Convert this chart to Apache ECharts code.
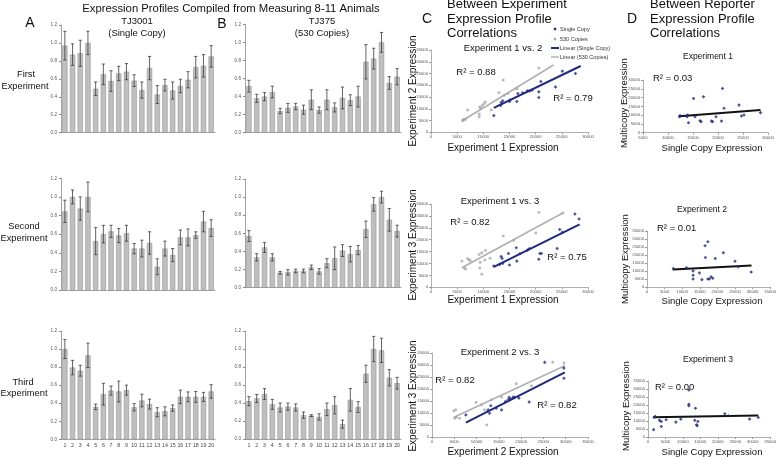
<!DOCTYPE html>
<html>
<head>
<meta charset="utf-8">
<style>
  html, body { margin: 0; padding: 0; background: #fff; }
  #fig { width: 779px; height: 457px; }
</style>
<script src="https://cdn.jsdelivr.net/npm/echarts@6/dist/echarts.min.js"></script>
</head>
<body>
<div id="fig"></div>
<script>
// ---- bar panels (A = TJ3001 single copy, B = TJ375 530 copies) ----
var genes = ['1','2','3','4','5','6','7','8','9','10','11','12','13','14','15','16','17','18','19','20'];

var a1Mean = [0.97,0.87,0.885,1.0,0.49,0.65,0.575,0.66,0.68,0.58,0.475,0.72,0.425,0.53,0.47,0.52,0.59,0.73,0.745,0.85];
var a1Err  = [0.16,0.12,0.145,0.13,0.075,0.115,0.115,0.08,0.09,0.065,0.09,0.13,0.1,0.065,0.095,0.075,0.09,0.12,0.125,0.12];
var b1Mean = [0.515,0.38,0.40,0.45,0.24,0.275,0.29,0.255,0.365,0.25,0.365,0.28,0.385,0.36,0.40,0.785,0.82,1.0,0.55,0.62];
var b1Err  = [0.065,0.045,0.045,0.065,0.03,0.05,0.035,0.05,0.11,0.035,0.11,0.05,0.12,0.06,0.115,0.19,0.115,0.11,0.07,0.09];
var a2Mean = [0.845,1.0,0.875,1.0,0.525,0.6,0.63,0.585,0.61,0.445,0.445,0.505,0.25,0.445,0.375,0.565,0.565,0.59,0.735,0.665];
var a2Err  = [0.12,0.075,0.125,0.16,0.145,0.095,0.065,0.075,0.085,0.055,0.09,0.12,0.085,0.08,0.07,0.08,0.09,0.035,0.11,0.09];
var b2Mean = [0.57,0.335,0.445,0.335,0.165,0.17,0.185,0.185,0.225,0.18,0.27,0.325,0.41,0.37,0.415,0.645,0.92,1.0,0.75,0.625];
var b2Err  = [0.06,0.04,0.055,0.04,0.015,0.03,0.02,0.02,0.025,0.03,0.05,0.125,0.065,0.085,0.05,0.09,0.075,0.065,0.125,0.065];
var a3Mean = [1.0,0.795,0.76,0.93,0.36,0.5,0.54,0.53,0.545,0.355,0.43,0.39,0.3,0.31,0.345,0.47,0.47,0.47,0.47,0.53];
var a3Err  = [0.105,0.08,0.06,0.135,0.03,0.12,0.05,0.115,0.055,0.04,0.07,0.055,0.05,0.05,0.035,0.075,0.055,0.06,0.05,0.075];
var b3Mean = [0.42,0.45,0.5,0.385,0.35,0.36,0.35,0.265,0.26,0.245,0.33,0.375,0.165,0.435,0.355,0.725,1.0,0.985,0.68,0.62];
var b3Err  = [0.05,0.045,0.06,0.055,0.05,0.04,0.04,0.035,0.01,0.035,0.07,0.095,0.045,0.125,0.06,0.095,0.14,0.135,0.09,0.065];

// ---- C: between experiment correlations [x, y] ----
var c1Single = [[12000,7100],[13300,11400],[13400,12700],[13700,13400],[15000,13100],[15100,13700],[16400,13100],[16600,16500],[17500,16800],[18400,17600],[18800,17600],[19300,17900],[20600,17200],[20600,14800],[21000,21600],[23800,19300],[25100,26000],[27600,25000]];
var c1Multi  = [[6000,5000],[6300,5300],[6600,5600],[6200,5500],[7000,9500],[9200,6600],[9200,7800],[9300,10800],[9500,10200],[9800,11400],[10100,12200],[10400,12900],[11500,9500],[13000,16900],[13800,22200],[14000,15800],[14700,16500],[16400,18500],[20600,27300]];
var c1SingleFit = [[12000,10400],[28600,28200]];
var c1MultiFit  = [[5900,4800],[23400,28600]];

var c2Single = [[12000,8900],[13100,9600],[13400,12900],[13600,12100],[13700,10000],[14800,14200],[15000,9400],[16300,16600],[16400,11000],[17000,14100],[18400,15600],[18800,16300],[20600,11800],[20800,14200],[21100,14200],[24100,16300],[24600,24300],[25100,23100],[27500,30800],[28300,28700]];
var c2Multi  = [[5900,11000],[6400,8000],[6600,7700],[7000,12000],[7300,11600],[7500,11200],[9200,13800],[9400,10500],[9300,8100],[9700,14500],[9700,5500],[10400,15500],[10300,11500],[11300,12200],[13800,21500],[15800,19700],[20000,22800],[20600,31500],[25200,31200]];
var c2SingleFit = [[12000,8600],[28400,26400]];
var c2MultiFit  = [[5900,8200],[25100,31100]];

var c3Single = [[7600,9200],[12600,11300],[12900,9900],[13200,13000],[14400,12000],[15600,11300],[16500,14800],[17100,15500],[17300,16500],[17600,15900],[18200,16600],[18500,16500],[19500,16200],[21800,14600],[25300,31100],[29600,28700],[29600,24500]];
var c3Multi  = [[4900,10900],[5300,11300],[5100,7800],[5500,8200],[6200,7800],[9900,14400],[11100,13400],[11800,11300],[12300,5000],[13300,15500],[15600,16600],[18900,22200],[22300,21300],[27100,31200],[29600,30800]];
var c3SingleFit = [[7600,6000],[29800,26900]];
var c3MultiFit  = [[4900,8200],[29800,29700]];

// ---- D: single copy vs multicopy ----
var d1Pts = [[12300,9100],[12400,9700],[13800,9100],[13900,10100],[14100,5700],[15100,19500],[15400,9100],[16400,6800],[16600,6300],[17100,20500],[18700,6600],[18900,6300],[19600,9100],[20700,6600],[20900,25200],[21200,13900],[24200,15700],[24700,9500],[25200,10100],[28500,11400]];
var d1Fit = [[12300,9300],[28500,12900]];
var d2Pts = [[7500,11500],[11200,12000],[13100,10100],[13100,7300],[13100,5000],[14900,8800],[15600,4600],[16500,25800],[16600,18400],[17300,28300],[17300,5000],[17700,5000],[18200,6300],[18700,5500],[19400,17800],[21700,21400],[25000,16100],[25900,12600],[29600,9400]];
var d2Fit = [[7300,10900],[29700,13400]];
var d3Pts = [[1600,4600],[1900,12400],[2100,12800],[3300,10400],[3800,9700],[3800,6600],[5200,10800],[8000,9300],[9400,11200],[11700,29400],[11700,20500],[11700,19500],[13400,10400],[13600,18000],[13900,7700],[14100,7000],[14300,9700],[22000,14500],[23000,13300],[29100,11200],[31600,12200]];
var d3Fit = [[1400,12400],[31600,13500]];

var FONT = 'Liberation Sans, Arial, sans-serif';
var NAVY = '#1f2a7c';
var GREY = '#a8a8a8';

var grids = [], xAxes = [], yAxes = [], series = [];

function errBars(params, api) {
    var i = api.value(0), m = api.value(1), e = api.value(2);
    var hi = api.coord([i, m + e]);
    var lo = api.coord([i, m - e]);
    var w = 1.6;
    var st = { stroke: '#3a3a3a', lineWidth: 0.8 };
    return { type: 'group', children: [
        { type: 'line', shape: { x1: hi[0], y1: hi[1], x2: lo[0], y2: lo[1] }, style: st },
        { type: 'line', shape: { x1: hi[0] - w, y1: hi[1], x2: hi[0] + w, y2: hi[1] }, style: st },
        { type: 'line', shape: { x1: lo[0] - w, y1: lo[1], x2: lo[0] + w, y2: lo[1] }, style: st }
    ]};
}

function addBars(box, means, errs, showX) {
    var k = grids.length;
    grids.push({ left: box[0], top: box[1], width: box[2], height: box[3], containLabel: false });
    xAxes.push({
        type: 'category', gridIndex: k, data: genes,
        axisLine: { lineStyle: { color: '#8a8a8a', width: 0.8 } },
        axisTick: { alignWithLabel: true, length: 2, lineStyle: { color: '#8a8a8a' } },
        axisLabel: { show: showX, fontSize: 5.3, color: '#444', margin: 4, interval: 0, fontFamily: FONT }
    });
    yAxes.push({
        type: 'value', gridIndex: k, min: 0, max: 1.2, interval: 0.2,
        axisLine: { show: true, lineStyle: { color: '#8a8a8a', width: 0.8 } },
        axisTick: { show: true, length: 2, lineStyle: { color: '#8a8a8a' } },
        splitLine: { show: false },
        axisLabel: { fontSize: 4.6, color: '#555', margin: 4, fontFamily: FONT,
            formatter: function (v) { return v.toFixed(1); } }
    });
    series.push({
        type: 'bar', xAxisIndex: k, yAxisIndex: k, data: means, barWidth: '68%',
        itemStyle: { color: '#bfbfbf', borderColor: '#8a8a8a', borderWidth: 0.5 }, silent: true
    });
    series.push({
        type: 'custom', xAxisIndex: k, yAxisIndex: k, renderItem: errBars,
        data: means.map(function (m, i) { return [i, m, errs[i]]; }), z: 5, silent: true
    });
}

function plain(v) { return String(v); }

function addScatter(box, xr, yr, sets) {
    var k = grids.length;
    grids.push({ left: box[0], top: box[1], width: box[2], height: box[3], containLabel: false });
    xAxes.push({
        type: 'value', gridIndex: k, min: xr[0], max: xr[1], interval: 5000,
        axisLine: { lineStyle: { color: '#9a9a9a', width: 0.8 } },
        axisTick: { show: true, length: 2, lineStyle: { color: '#9a9a9a' } },
        splitLine: { show: false },
        axisLabel: { fontSize: 4.2, color: '#555', margin: 3, fontFamily: FONT, formatter: plain }
    });
    yAxes.push({
        type: 'value', gridIndex: k, min: yr[0], max: yr[1], interval: 5000,
        axisLine: { show: true, lineStyle: { color: '#9a9a9a', width: 0.8 } },
        axisTick: { show: true, length: 2, lineStyle: { color: '#9a9a9a' } },
        splitLine: { show: false },
        axisLabel: { fontSize: 4.2, color: '#555', margin: 3, fontFamily: FONT, formatter: plain }
    });
    sets.forEach(function (s) {
        if (s.fit) {
            series.push({ type: 'line', xAxisIndex: k, yAxisIndex: k, data: s.data, showSymbol: false,
                lineStyle: { color: s.color, width: s.width }, z: 3, silent: true });
        } else {
            series.push({ type: 'scatter', xAxisIndex: k, yAxisIndex: k, data: s.data,
                symbol: s.symbol, symbolSize: s.size, itemStyle: { color: s.color }, z: 4, silent: true });
        }
    });
}

// bar grids
addBars([61, 25, 154, 107.7], a1Mean, a1Err, false);
addBars([245, 24.3, 156, 108.4], b1Mean, b1Err, false);
addBars([61, 178.3, 154, 111.7], a2Mean, a2Err, false);
addBars([245, 179, 156, 108.7], b2Mean, b2Err, false);
addBars([61, 331, 154, 108.3], a3Mean, a3Err, true);
addBars([245, 331, 156, 108], b3Mean, b3Err, true);

function cSets(single, multi, sFit, mFit) {
    return [
        { data: mFit, fit: true, color: '#b0b0b0', width: 1.6 },
        { data: sFit, fit: true, color: NAVY, width: 2 },
        { data: multi, symbol: 'rect', size: 2.6, color: GREY },
        { data: single, symbol: 'diamond', size: 3.6, color: NAVY }
    ];
}
function dSets(pts, fit) {
    return [
        { data: fit, fit: true, color: '#111', width: 2 },
        { data: pts, symbol: 'diamond', size: 3.6, color: NAVY }
    ];
}

addScatter([431, 50, 157, 82.3], [0, 30000], [0, 35000], cSets(c1Single, c1Multi, c1SingleFit, c1MultiFit));
addScatter([431, 204, 157, 83.3], [0, 30000], [0, 35000], cSets(c2Single, c2Multi, c2SingleFit, c2MultiFit));
addScatter([432, 353, 156, 84], [0, 35000], [0, 35000], cSets(c3Single, c3Multi, c3SingleFit, c3MultiFit));
addScatter([643, 80, 125, 52.7], [5000, 30000], [0, 30000], dSets(d1Pts, d1Fit));
addScatter([647, 231, 125, 56], [0, 35000], [0, 35000], dSets(d2Pts, d2Fit));
addScatter([648, 381, 125, 56], [0, 35000], [0, 35000], dSets(d3Pts, d3Fit));

// text labels
function txt(s, x, y, size, opts) {
    opts = opts || {};
    return {
        type: 'text', x: x, y: y, rotation: opts.rot || 0, silent: true,
        style: { text: s, fontSize: size, fontFamily: FONT, fill: opts.color || '#111',
            align: opts.align || 'center', verticalAlign: 'middle' }
    };
}
var V = { rot: Math.PI / 2 };
var texts = [
    txt('Expression Profiles Compiled from Measuring 8-11 Animals', 231, 9, 11.3),
    txt('A', 30, 23, 14), txt('B', 222, 24, 14),
    txt('TJ3001', 137, 21, 9.5), txt('(Single Copy)', 137, 33, 9.5),
    txt('TJ375', 322, 21, 9.5), txt('(530 Copies)', 322, 33, 9.5),
    txt('First', 26, 74, 9.3), txt('Experiment', 25, 86, 9.3),
    txt('Second', 24, 226, 9.3), txt('Experiment', 24, 238, 9.3),
    txt('Third', 23, 382, 9.3), txt('Experiment', 24, 393, 9.3),

    txt('C', 427, 19, 14),
    txt('Between Experiment', 447, 4, 13, { align: 'left' }),
    txt('Expression Profile', 447, 19, 13, { align: 'left' }),
    txt('Correlations', 447, 33, 13, { align: 'left' }),
    txt('Experiment 1 vs. 2', 503, 48, 9.5),
    txt('R² = 0.88', 476, 72, 9.5), txt('R² = 0.79', 573, 98, 9.5),
    txt('Experiment 2 Expression', 413, 91, 10, V),
    txt('Experiment 1 Expression', 503, 148, 10),
    txt('Experiment 1 vs. 3', 500, 201, 9.5),
    txt('R² = 0.82', 470, 222, 9.5), txt('R² = 0.75', 567, 257, 9.5),
    txt('Experiment 3 Expression', 413, 245, 10, V),
    txt('Experiment 1 Expression', 503, 300, 10),
    txt('Experiment 2 vs. 3', 500, 352, 9.5),
    txt('R² = 0.82', 455, 380, 9.5), txt('R² = 0.82', 557, 405, 9.5),
    txt('Experiment 3 Expression', 413, 396, 10, V),
    txt('Experiment 2 Expression', 503, 452, 10),

    txt('D', 632, 19, 14),
    txt('Between Reporter', 650, 4, 13, { align: 'left' }),
    txt('Expression Profile', 650, 19, 13, { align: 'left' }),
    txt('Correlations', 650, 33, 13, { align: 'left' }),
    txt('Experiment 1', 708, 57, 8.5),
    txt('R² = 0.03', 653, 78, 9.5, { align: 'left' }),
    txt('Multicopy Expression', 624, 103, 9.5, V),
    txt('Single Copy Expression', 712, 148, 9.5),
    txt('Experiment 2', 702, 210, 8.5),
    txt('R² = 0.01', 657, 228, 9.5, { align: 'left' }),
    txt('Multicopy Expression', 625, 259, 9.5, V),
    txt('Single Copy Expression', 712, 301, 9.5),
    txt('Experiment 3', 708, 360, 8.5),
    txt('R² = 0.00', 655, 387, 9.5, { align: 'left' }),
    txt('Multicopy Expression', 626, 406, 9.5, V),
    txt('Single Copy Expression', 712, 452, 9.5),

    // legend of panel C
    { type: 'polygon', silent: true, shape: { points: [[555, 27.3], [556.7, 29], [555, 30.7], [553.3, 29]] }, style: { fill: NAVY } },
    { type: 'rect', silent: true, shape: { x: 553.8, y: 37.8, width: 2.4, height: 2.4 }, style: { fill: GREY } },
    { type: 'line', silent: true, shape: { x1: 551, y1: 48, x2: 559, y2: 48 }, style: { stroke: NAVY, lineWidth: 2 } },
    { type: 'line', silent: true, shape: { x1: 551, y1: 57, x2: 559, y2: 57 }, style: { stroke: '#b0b0b0', lineWidth: 1.4 } },
    txt('Single Copy', 560, 29, 5.5, { align: 'left', color: '#333' }),
    txt('530 Copies', 560, 39, 5.5, { align: 'left', color: '#333' }),
    txt('Linear (Single Copy)', 560, 48, 5.5, { align: 'left', color: '#333' }),
    txt('Linear (530 Copies)', 560, 57, 5.5, { align: 'left', color: '#333' })
];

var chart = echarts.init(document.getElementById('fig'), null, { renderer: 'canvas' });
chart.setOption({
    backgroundColor: '#fff',
    animation: false,
    textStyle: { fontFamily: FONT },
    grid: grids,
    xAxis: xAxes,
    yAxis: yAxes,
    series: series,
    graphic: texts
});
</script>
</body>
</html>
